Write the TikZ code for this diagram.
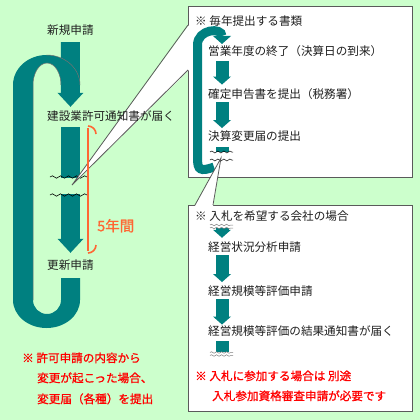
\documentclass[tikz,border=0pt]{standalone}
\usepackage{fontspec}
\newfontfamily\jp{Noto Sans CJK JP}
\newfontfamily\jpheavy[FakeBold=1]{Noto Sans CJK JP}
\usetikzlibrary{arrows.meta,decorations.pathmorphing}
\pgfdeclarelayer{front}
\pgfsetlayers{main,front}
\definecolor{bggreen}{RGB}{204,255,204}
\definecolor{tealc}{RGB}{0,128,128}
\definecolor{boxline}{RGB}{90,90,90}
\definecolor{txtgray}{RGB}{30,30,30}
\definecolor{notered}{RGB}{255,0,0}
\definecolor{spanor}{RGB}{255,102,51}
\tikzset{
  lbl/.style={anchor=west,inner sep=1pt,text height=8.5pt,text depth=2pt,text=txtgray,font=\jp\fontsize{11.6}{14}\selectfont},
  note/.style={lbl,text=notered,font=\jpheavy\fontsize{11.6}{14}\selectfont},
  flow/.style={draw=tealc,line width=13pt,-{Triangle[width=18pt,length=8pt,line width=0pt]}},
  bigflow/.style={draw=tealc,line width=19pt,-{Triangle[width=26pt,length=14pt,line width=0pt]}},
  stub/.style={draw=tealc,line width=13pt},
  brk/.style={decorate,decoration={snake,segment length=8pt,amplitude=1.2pt},line width=0.6pt},
  brksm/.style={decorate,decoration={snake,segment length=6pt,amplitude=1pt},line width=0.5pt},
  brkfine/.style={decorate,decoration={snake,segment length=5pt,amplitude=0.8pt},line width=0.5pt,gray},
  panel/.style={fill=white,draw=boxline,line width=1pt},
  tail/.style={draw=boxline,line width=0.8pt,line join=miter}
}

\begin{document}
\begin{tikzpicture}[x=1pt,y=-1pt]
\fill[bggreen] (0,0) rectangle (420,420);
\useasboundingbox (0,0) rectangle (420,420);

% left: licence cycle
\begin{pgfonlayer}{front}
\node[lbl] (nsh) at (46,31) {新規申請};
\node[lbl] (kyk) at (46,117) {建設業許可通知書が届く};
\node[lbl] (ksn) at (46,266) {更新申請};
\node[note] (nt1a) at (21,359) {※ 許可申請の内容から};
\node[note] (nt1b) at (36,379) {変更が起こった場合、};
\node[note] (nt1c) at (36,400) {変更届（各種）を提出};
\end{pgfonlayer}
\draw[bigflow,shorten <=4.75pt,shorten >=3.75pt] (nsh.south) -- ([xshift=24.5pt]kyk.north west);
\draw[bigflow,shorten <=3.75pt,shorten >=6.75pt] ([xshift=24.5pt]kyk.south west) -- ([xshift=24.5pt]ksn.north west);
\fill[tealc] (13,300) -- (13,85) arc[start angle=180,end angle=360,x radius=33.5,y radius=30]
  -- (61,85) arc[start angle=0,end angle=-180,x radius=14,y radius=22]
  -- (33,300) arc[start angle=180,end angle=0,x radius=14,y radius=14]
  -- (61,278) -- (80,278) -- (80,300) arc[start angle=0,end angle=180,x radius=33.5,y radius=28] -- cycle;
\draw[black!55,line width=0.5pt] (46.5,55) arc[start angle=270,end angle=360,x radius=33.5,y radius=30];
\draw[black!55,line width=0.5pt] (33,300) -- (33,85) arc[start angle=180,end angle=360,x radius=14,y radius=22];
\fill[bggreen] (56,178) rectangle (85,194);
\draw[brk] (50,177) -- (88,177);
\draw[brk] (50,195) -- (88,195);

% panels
\draw[panel] (188,7) rectangle (412,177);
\draw[panel] (188,205) rectangle (412,411);

% yearly documents
\begin{pgfonlayer}{front}
\node[lbl] (hd1) at (194,22) {※ 毎年提出する書類};
\node[lbl] (a1) at (207,52) {営業年度の終了（決算日の到来）};
\node[lbl] (a2) at (207,95) {確定申告書を提出（税務署）};
\node[lbl] (a3) at (207,137) {決算変更届の提出};
\end{pgfonlayer}
\draw[draw=tealc,line width=9pt,-{Triangle[width=18pt,length=8pt,line width=0pt]}]
  (214,167) .. controls (200,172) and (197.5,170) .. (197.5,158) -- (197.5,45)
  .. controls (197.5,29) and (222,27) .. (222,44);
\draw[flow,shorten <=2.5pt,shorten >=4pt] ([xshift=15pt]a1.south west) -- ([xshift=15pt]a2.north west);
\draw[flow,shorten <=1pt,shorten >=2.5pt] ([xshift=15pt]a2.south west) -- ([xshift=15pt]a3.north west);
\coordinate (w3) at (222,152);
\draw[stub,shorten <=3.5pt] ([xshift=15pt]a3.south west) -- (w3);
\draw[brksm] (210,152) -- (233,152);
\draw[brksm] (210,160) -- (233,160);

% callout tails
\fill[white] (189,25) -- (72,185) -- (189,70) -- cycle;
\draw[tail] (188,25) -- (72,185) -- (188,70);
\fill[white] (195,206) -- (221,158) -- (213,206) -- cycle;
\draw[tail] (195,205) -- (221,158) -- (213,205);

% tender steps
\begin{pgfonlayer}{front}
\node[lbl] (hd2) at (194,217) {※ 入札を希望する会社の場合};
\node[lbl] (b1) at (207,248) {経営状況分析申請};
\node[lbl] (b2) at (207,292) {経営規模等評価申請};
\node[lbl] (b3) at (207,332) {経営規模等評価の結果通知書が届く};
\node[note] (nt2) at (194,377) {※ 入札に参加する場合は 別途};
\node[note] (nt3) at (211,397) {入札参加資格審査申請が必要です};
\end{pgfonlayer}
\coordinate (w1) at (222,228);
\coordinate (w2) at (222,352);
\draw[flow,shorten >=3.75pt] (w1) -- ([xshift=15pt]b1.north west);
\draw[flow,shorten <=1pt,shorten >=3.5pt] ([xshift=15pt]b1.south west) -- ([xshift=15pt]b2.north west);
\draw[flow,shorten <=1pt,shorten >=1pt] ([xshift=15pt]b2.south west) -- ([xshift=15pt]b3.north west);
\draw[stub,shorten <=3pt] ([xshift=15pt]b3.south west) -- (w2);
\draw[brkfine] (210,225) -- (233,225);
\draw[brkfine] (210,228) -- (233,228);
\draw[brkfine] (210,352.5) -- (233,352.5);
\draw[brkfine] (210,355.5) -- (233,355.5);

% five-year span
\draw[spanor,line width=1.6pt] (88,126) arc[start angle=270,end angle=360,radius=8] ;
\draw[spanor,line width=1.6pt] (88,128) -- (88,251);
\draw[spanor,line width=1.6pt] (96,245) arc[start angle=0,end angle=90,radius=8];
\node[lbl,text=spanor,font=\jpheavy\fontsize{14.5}{16}\selectfont] (yrs) at (96,228) {5年間};
\end{tikzpicture}
\end{document}
